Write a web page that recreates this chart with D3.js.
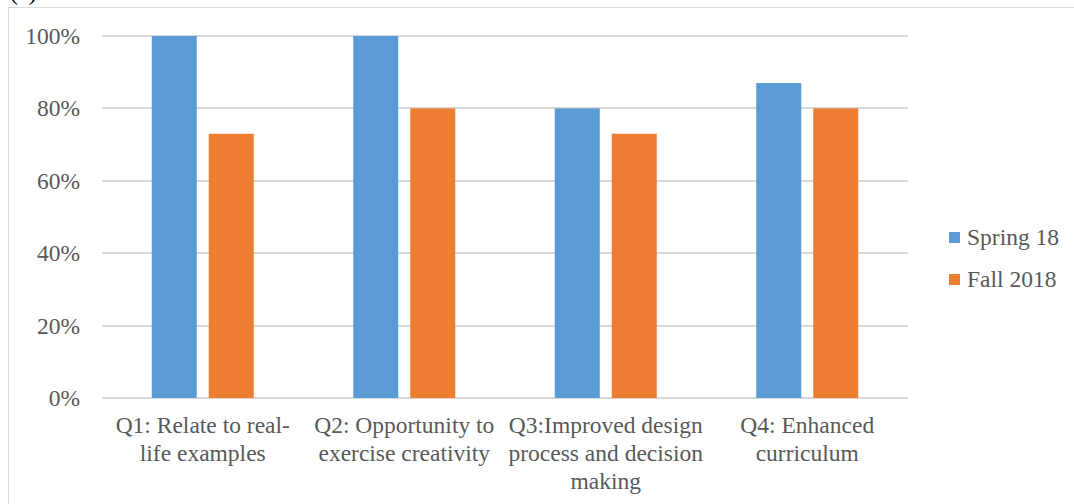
<!DOCTYPE html>
<html>
<head>
<meta charset="utf-8">
<script src="https://cdn.jsdelivr.net/npm/d3@7"></script>
<style>
  body { margin: 0; background: #fff; }
</style>
</head>
<body>
<div id="chart"></div>
<script>
// chart data
const categories = [
  ["Q1: Relate to real-", "life examples"],
  ["Q2: Opportunity to", "exercise creativity"],
  ["Q3:Improved design", "process and decision", "making"],
  ["Q4: Enhanced", "curriculum"]
];
const seriesNames = ["Spring 18", "Fall 2018"];
const spring = [100, 100, 80, 87];
const fall = [73, 80, 73, 80];
const yTicks = [0, 20, 40, 60, 80, 100];

const colors = ["#5B9BD5", "#ED7D31"];
const font = "'Liberation Serif', 'Times New Roman', serif";
const textColor = "#595959";
const fontSize = 23.5;

const width = 1074;
const height = 504;
const margin = { left: 102, right: 166, top: 36, bottom: 106 };

const svg = d3.select("#chart")
  .append("svg")
  .attr("width", width)
  .attr("height", height)
  .style("font-family", font);

// outer frame (chart area border)
svg.append("rect")
  .attr("x", 8.5).attr("y", 7.5)
  .attr("width", width).attr("height", height)
  .attr("fill", "none")
  .attr("stroke", "#d9d9d9");

// panel label, cut off at top like the source
svg.append("text")
  .attr("x", 10).attr("y", 0)
  .style("font-family", font)
  .style("font-size", "24px")
  .attr("fill", "#000")
  .text("(a)");

const x = d3.scaleBand()
  .domain(d3.range(categories.length))
  .range([margin.left, width - margin.right]);

const y = d3.scaleLinear()
  .domain([0, 100])
  .range([height - margin.bottom, margin.top]);

// gridlines
svg.append("g")
  .selectAll("line")
  .data(yTicks)
  .join("line")
  .attr("x1", margin.left)
  .attr("x2", width - margin.right)
  .attr("y1", d => Math.round(y(d)))
  .attr("y2", d => Math.round(y(d)))
  .attr("stroke", "#d9d9d9")
  .attr("stroke-width", 2);

// y axis labels
const yAxis = d3.axisLeft(y)
  .tickValues(yTicks)
  .tickFormat(d => d + "%")
  .tickSize(0)
  .tickPadding(22);

svg.append("g")
  .attr("transform", `translate(${margin.left},0)`)
  .call(yAxis)
  .call(g => g.select(".domain").remove())
  .attr("font-family", null)
  .attr("font-size", null)
  .selectAll("text")
  .style("font-family", font)
  .style("font-size", fontSize + "px")
  .attr("fill", textColor);

// bars
const barW = 45;
const gap = 12;
const series = [spring, fall];

series.forEach((vals, s) => {
  svg.append("g")
    .selectAll("rect")
    .data(vals)
    .join("rect")
    .attr("x", (d, i) => x(i) + x.bandwidth() / 2 + (s === 0 ? -(gap / 2 + barW) : gap / 2))
    .attr("y", d => y(d))
    .attr("width", barW)
    .attr("height", d => y(0) - y(d))
    .attr("fill", colors[s]);
});

// category labels
const catG = svg.append("g");
categories.forEach((lines, i) => {
  const cx = x(i) + x.bandwidth() / 2;
  const t = catG.append("text")
    .attr("text-anchor", "middle")
    .style("font-family", font)
    .style("font-size", fontSize + "px")
    .attr("fill", textColor)
    .attr("x", cx)
    .attr("y", 433);
  lines.forEach((line, j) => {
    t.append("tspan")
      .attr("x", cx)
      .attr("dy", j === 0 ? 0 : 28)
      .text(line);
  });
});

// legend
const legend = svg.append("g")
  .attr("transform", "translate(949,232)");

legend.selectAll("rect")
  .data(seriesNames)
  .join("rect")
  .attr("x", 0)
  .attr("y", (d, i) => i * 42)
  .attr("width", 11)
  .attr("height", 11)
  .attr("fill", (d, i) => colors[i]);

legend.selectAll("text")
  .data(seriesNames)
  .join("text")
  .attr("x", 18)
  .attr("y", (d, i) => i * 42 + 13)
  .style("font-family", font)
  .style("font-size", fontSize + "px")
  .attr("fill", textColor)
  .text(d => d);
</script>
</body>
</html>
